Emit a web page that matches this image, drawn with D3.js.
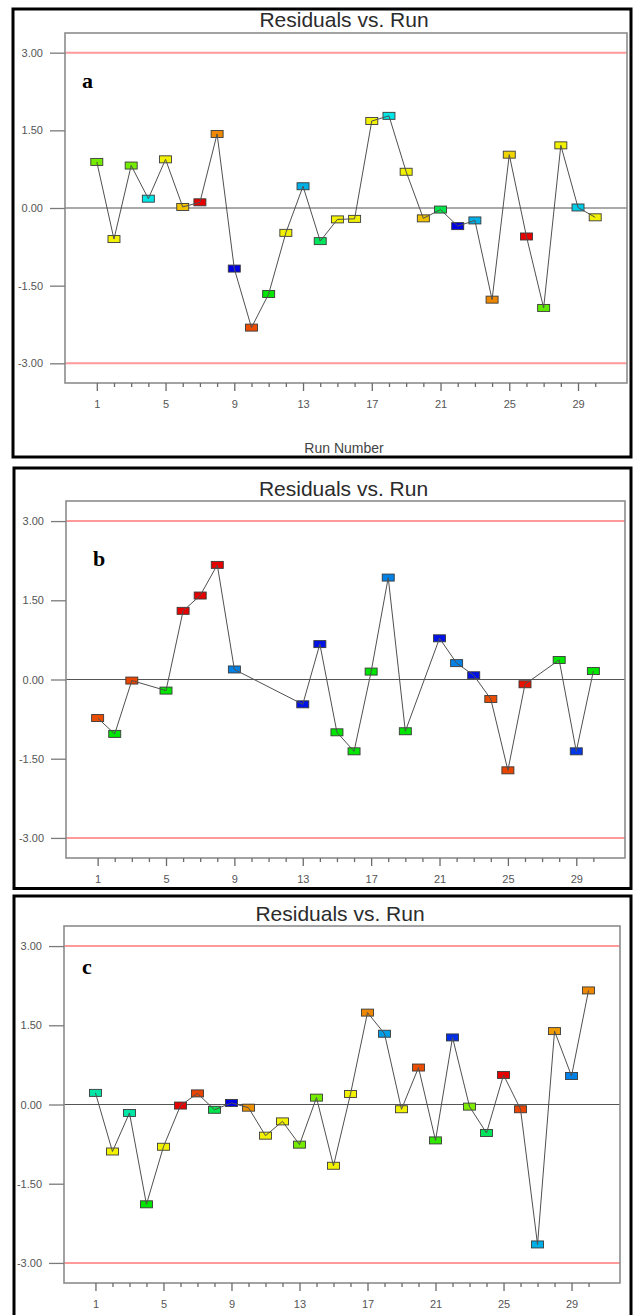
<!DOCTYPE html>
<html>
<head>
<meta charset="utf-8">
<script src="https://cdn.jsdelivr.net/npm/d3@7"></script>
<style>
  html, body { margin: 0; padding: 0; background: #fff; }
  svg { display: block; }
</style>
</head>
<body>
<svg id="chart" width="633" height="1315"></svg>
<script>
// ---------- DATA ----------
const runs = [1,2,3,4,5,6,7,8,9,10,11,12,13,14,15,16,17,18,19,20,21,22,23,24,25,26,27,28,29,30];
const majorRunLabels = [1,5,9,13,17,21,25,29];
const yTickValues = [3.00, 1.50, 0.00, -1.50, -3.00];
const controlLimits = [3, -3];
const panelLetters = ["a", "b", "c"];
const titleText = "Residuals vs. Run";
const xAxisTitle = "Run Number";

const residualsA = [0.89,-0.60,0.82,0.18,0.94,0.02,0.11,1.43,-1.17,-2.31,-1.66,-0.48,0.42,-0.64,-0.22,-0.21,1.68,1.78,0.70,-0.20,-0.03,-0.35,-0.24,-1.77,1.03,-0.55,-1.93,1.21,0.01,-0.18];
const residualsB = [-0.73,-1.03,-0.02,null,-0.21,1.30,1.59,2.17,0.19,null,null,null,-0.47,0.67,-1.00,-1.36,0.15,1.93,-0.98,null,0.78,0.31,0.08,-0.37,-1.72,-0.09,null,0.37,-1.36,0.16];
const residualsC = [0.22,-0.89,-0.16,-1.89,-0.80,-0.02,0.21,-0.10,0.03,-0.06,-0.59,-0.32,-0.76,0.13,-1.16,0.20,1.74,1.34,-0.09,0.70,-0.68,1.27,-0.04,-0.54,0.56,-0.09,-2.65,1.39,0.54,2.16];

// colour-by level of each point (0 = low / blue ... 1 = high / red)
const levelA = [0.62,0.75,0.62,0.25,0.75,0.80,1.00,0.86,0.00,0.92,0.50,0.75,0.19,0.40,0.75,0.75,0.75,0.25,0.75,0.80,0.42,0.00,0.19,0.86,0.78,1.00,0.60,0.75,0.22,0.75];
const levelB = [0.92,0.50,0.93,null,0.50,1.00,1.00,1.00,0.14,null,null,null,0.02,0.02,0.50,0.50,0.50,0.14,0.50,null,0.02,0.14,0.02,0.92,0.93,0.98,null,0.50,0.06,0.50];
const levelC = [0.32,0.75,0.32,0.50,0.75,1.00,0.93,0.42,0.00,0.85,0.75,0.75,0.62,0.62,0.75,0.75,0.86,0.17,0.75,0.92,0.55,0.05,0.63,0.40,1.00,0.93,0.19,0.84,0.14,0.86];

// ---------- LAYOUT ----------
const panels = [
  { res: residualsA, lvl: levelA, frame: {x0:13, y0:9,   x1:631, y1:457},  plot: {x0:65, y0:33,  x1:627, y1:383},  titleY: 27, letter: {x:82, y:88},  xTitle: true },
  { res: residualsB, lvl: levelB, frame: {x0:14, y0:468, x1:631, y1:888.5}, plot: {x0:66, y0:501, x1:625, y1:858}, titleY: 495.5,  letter: {x:93, y:566}, xTitle: false },
  { res: residualsC, lvl: levelC, frame: {x0:14, y0:896, x1:631, y1:1330}, plot: {x0:64, y0:926, x1:620, y1:1283}, titleY: 921, letter: {x:82, y:974}, xTitle: false }
];

const color = d3.scaleLinear()
  .domain([0, 0.25, 0.5, 0.75, 1])
  .range(["#0000e6", "#00e6e6", "#00e600", "#f2f200", "#e60000"]);

const svg = d3.select("#chart");
const FONT = "Liberation Sans, Arial, sans-serif";

panels.forEach((p, i) => {
  const g = svg.append("g");
  const x = d3.scaleLinear().domain([-0.85, 31.85]).range([p.plot.x0, p.plot.x1]);
  const y = d3.scaleLinear().domain([-3.38, 3.38]).range([p.plot.y1, p.plot.y0]);

  // outer frame
  g.append("rect")
    .attr("x", p.frame.x0).attr("y", p.frame.y0)
    .attr("width", p.frame.x1 - p.frame.x0).attr("height", p.frame.y1 - p.frame.y0)
    .attr("fill", "#fff").attr("stroke", "#000").attr("stroke-width", 3);

  // title
  g.append("text")
    .attr("x", (p.plot.x0 + p.plot.x1) / 2 - 2).attr("y", p.titleY)
    .attr("text-anchor", "middle")
    .attr("font-family", FONT).attr("font-size", 21)
    .attr("fill", "#2b2b2b")
    .text(titleText);

  // control limits
  g.selectAll(".lim").data(controlLimits).enter().append("line")
    .attr("x1", p.plot.x0).attr("x2", p.plot.x1)
    .attr("y1", d => y(d)).attr("y2", d => y(d))
    .attr("stroke", "#ff9a9a").attr("stroke-width", 2);

  // zero line
  g.append("line")
    .attr("x1", p.plot.x0).attr("x2", p.plot.x1)
    .attr("y1", y(0)).attr("y2", y(0))
    .attr("stroke", "#555").attr("stroke-width", 1);

  // plot area border
  g.append("rect")
    .attr("x", p.plot.x0).attr("y", p.plot.y0)
    .attr("width", p.plot.x1 - p.plot.x0).attr("height", p.plot.y1 - p.plot.y0)
    .attr("fill", "none").attr("stroke", "#8c8c8c").attr("stroke-width", 1.6);

  // y axis
  const yAxis = d3.axisLeft(y).tickValues(yTickValues).tickSize(15).tickPadding(7)
    .tickFormat(d => d.toFixed(2));
  const ya = g.append("g").attr("transform", `translate(${p.plot.x0},0)`).call(yAxis);
  ya.select(".domain").remove();
  ya.selectAll("line").attr("stroke", "#7a7a7a").attr("stroke-width", 1.3);
  ya.selectAll("text").attr("font-family", FONT).attr("font-size", 11).attr("fill", "#555");

  // x axis
  const xAxis = d3.axisBottom(x).tickValues(runs).tickSize(4).tickPadding(9)
    .tickFormat(d => majorRunLabels.includes(d) ? String(d) : "");
  const xa = g.append("g").attr("transform", `translate(0,${p.plot.y1})`).call(xAxis);
  xa.select(".domain").remove();
  xa.selectAll(".tick line").attr("stroke", "#6a6a6a").attr("stroke-width", 1.3)
    .attr("y2", d => majorRunLabels.includes(d) ? 8 : 4);
  xa.selectAll("text").attr("font-family", FONT).attr("font-size", 11).attr("fill", "#555")
    .attr("y", 17);

  if (p.xTitle) {
    g.append("text")
      .attr("x", (p.plot.x0 + p.plot.x1) / 2 - 2).attr("y", 453)
      .attr("text-anchor", "middle")
      .attr("font-family", FONT).attr("font-size", 14)
      .attr("fill", "#444")
      .text(xAxisTitle);
  }

  // data
  const pts = runs.map((r, k) => ({ run: r, v: p.res[k], lvl: p.lvl[k] }))
    .filter(d => d.v !== null);

  // markers
  g.selectAll(".pt").data(pts).enter().append("rect")
    .attr("x", d => x(d.run) - 6).attr("y", d => y(d.v) - 3.5)
    .attr("width", 12).attr("height", 7)
    .attr("fill", d => color(d.lvl))
    .attr("stroke", "#3a3a3a").attr("stroke-width", 0.9);

  // connecting line
  const line = d3.line().x(d => x(d.run)).y(d => y(d.v));
  g.append("path").datum(pts)
    .attr("d", line)
    .attr("fill", "none").attr("stroke", "#505050").attr("stroke-width", 1);

  // panel letter
  g.append("text")
    .attr("x", p.letter.x).attr("y", p.letter.y)
    .attr("font-family", "Liberation Serif, Times New Roman, serif")
    .attr("font-weight", "bold").attr("font-size", 22)
    .attr("fill", "#000")
    .text(panelLetters[i]);
});
</script>
</body>
</html>
